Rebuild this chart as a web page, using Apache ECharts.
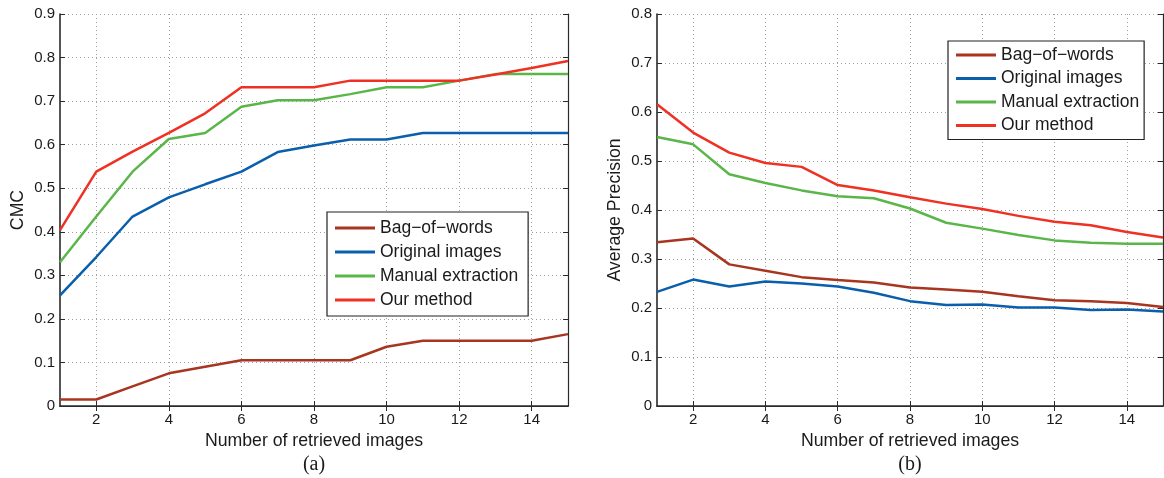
<!DOCTYPE html>
<html>
<head>
<meta charset="utf-8">
<script src="https://cdn.jsdelivr.net/npm/echarts@6/dist/echarts.min.js"></script>
<style>html,body{margin:0;padding:0;background:#fff;}#c{width:1164px;height:478px;}</style>
</head>
<body>
<div id="c"></div>
<script>
const categories = ['1','2','3','4','5','6','7','8','9','10','11','12','13','14','15'];
const seriesNames = ['Bag\u2212of\u2212words', 'Original images', 'Manual extraction', 'Our method'];
// (a) CMC
const cmcBag    = [0.015,0.015,0.045,0.075,0.090,0.105,0.105,0.105,0.105,0.136,0.150,0.150,0.150,0.150,0.165];
const cmcOrig   = [0.254,0.342,0.435,0.479,0.509,0.538,0.583,0.598,0.612,0.612,0.627,0.627,0.627,0.627,0.627];
const cmcManual = [0.330,0.435,0.538,0.613,0.627,0.687,0.702,0.702,0.716,0.732,0.732,0.747,0.762,0.762,0.762];
const cmcOurs   = [0.404,0.538,0.584,0.627,0.672,0.732,0.732,0.732,0.747,0.747,0.747,0.747,0.761,0.776,0.792];
// (b) Average Precision
const apBag    = [0.334,0.342,0.289,0.276,0.263,0.257,0.252,0.242,0.238,0.233,0.224,0.216,0.214,0.210,0.202];
const apOrig   = [0.233,0.258,0.244,0.254,0.250,0.244,0.231,0.214,0.206,0.207,0.201,0.201,0.196,0.197,0.193];
const apManual = [0.549,0.534,0.473,0.455,0.440,0.428,0.424,0.403,0.374,0.362,0.349,0.338,0.333,0.331,0.331];
const apOurs   = [0.616,0.558,0.517,0.496,0.488,0.451,0.440,0.426,0.413,0.402,0.388,0.376,0.369,0.355,0.344];

const colors = ['#a8351f', '#0a5fac', '#5bb64a', '#ef3124'];
const FONT = 'Liberation Sans, Arial, Helvetica, sans-serif';
const axisColor = '#2a2a2a';
const evenIdx = function (idx) { return idx % 2 === 1; };

function xAxes(gridIndex) {
  return [{
    type: 'category', gridIndex: gridIndex, data: categories, boundaryGap: false,
    name: 'Number of retrieved images', nameLocation: 'middle', nameGap: 22,
    nameTextStyle: { fontFamily: FONT, fontSize: 17.7, color: '#1a1a1a' },
    axisLine: { lineStyle: { color: axisColor, width: 1.6 } },
    axisTick: { inside: true, length: 5, interval: evenIdx, lineStyle: { color: axisColor } },
    axisLabel: { interval: evenIdx, margin: 6, fontFamily: FONT, fontSize: 15, color: '#1a1a1a' },
    splitLine: { show: true, interval: evenIdx, lineStyle: { color: '#a0a0a0', type: [1, 3], width: 1 } }
  }, {
    type: 'category', gridIndex: gridIndex, data: categories, boundaryGap: false, position: 'top',
    axisLine: { lineStyle: { color: axisColor, width: 1.2 } },
    axisTick: { inside: true, length: 5, interval: evenIdx, lineStyle: { color: axisColor } },
    axisLabel: { show: false }, splitLine: { show: false }
  }];
}
function yAxes(gridIndex, max, name) {
  return [{
    type: 'value', gridIndex: gridIndex, min: 0, max: max, interval: 0.1,
    name: name, nameLocation: 'middle', nameGap: 33,
    nameTextStyle: { fontFamily: FONT, fontSize: 17.7, color: '#1a1a1a' },
    axisLine: { show: true, lineStyle: { color: axisColor, width: 1.6 } },
    axisTick: { show: true, inside: true, length: 5, lineStyle: { color: axisColor } },
    axisLabel: { margin: 5, fontFamily: FONT, fontSize: 15, color: '#1a1a1a' },
    splitLine: { show: true, lineStyle: { color: '#a0a0a0', type: [1, 3], width: 1 } }
  }, {
    type: 'value', gridIndex: gridIndex, min: 0, max: max, interval: 0.1, position: 'right',
    axisLine: { show: true, lineStyle: { color: axisColor, width: 1.2 } },
    axisTick: { show: true, inside: true, length: 5, lineStyle: { color: axisColor } },
    axisLabel: { show: false }, splitLine: { show: false }
  }];
}
function lines(gridIdx, datas) {
  return datas.map(function (d, i) {
    return {
      name: seriesNames[i], type: 'line', xAxisIndex: gridIdx * 2, yAxisIndex: gridIdx * 2,
      data: d, symbol: 'none', smooth: false, animation: false,
      lineStyle: { color: colors[i], width: 2.5 }, itemStyle: { color: colors[i] }, z: 3 + i
    };
  });
}
function legend(left, top, padding, gap) {
  return {
    orient: 'vertical', left: left, top: top, padding: padding, itemGap: gap,
    itemWidth: 40, itemHeight: 3, icon: 'rect', itemTextGap: 5,
    backgroundColor: '#fff', borderColor: '#222', borderWidth: 1.2, selectedMode: false,
    textStyle: { fontFamily: FONT, fontSize: 17.5, lineHeight: 18, color: '#1a1a1a' },
    data: seriesNames
  };
}

const chart = echarts.init(document.getElementById('c'), null, { renderer: 'canvas' });
chart.setOption({
  animation: false,
  color: colors,
  grid: [
    { left: 60, top: 14, width: 508, height: 392 },
    { left: 657, top: 14, width: 506, height: 392 }
  ],
  xAxis: xAxes(0).concat(xAxes(1)),
  yAxis: yAxes(0, 0.9, 'CMC').concat(yAxes(1, 0.8, 'Average Precision')),
  legend: [
    legend(327, 212, [7, 10, 7, 8], 6),
    legend(948, 41, [5, 5, 5, 8], 5.5)
  ],
  series: lines(0, [cmcBag, cmcOrig, cmcManual, cmcOurs]).concat(lines(1, [apBag, apOrig, apManual, apOurs])),
  graphic: [
    { type: 'text', x: 314, y: 465, style: { text: '(a)', textAlign: 'center', textVerticalAlign: 'middle', font: '20px "Liberation Serif", "Times New Roman", serif', fill: '#1a1a1a' } },
    { type: 'text', x: 910, y: 465, style: { text: '(b)', textAlign: 'center', textVerticalAlign: 'middle', font: '20px "Liberation Serif", "Times New Roman", serif', fill: '#1a1a1a' } }
  ]
});
</script>
</body>
</html>
